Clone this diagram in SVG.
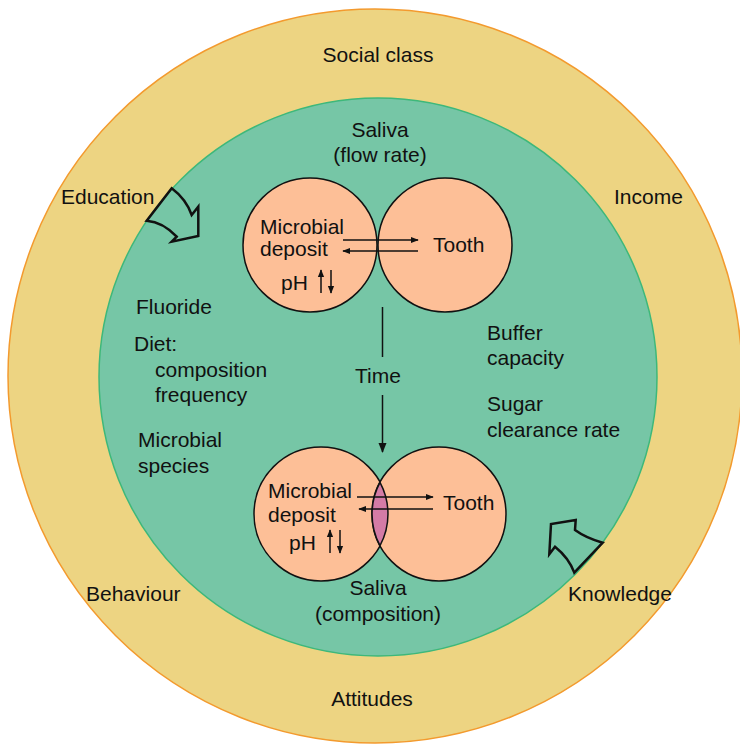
<svg xmlns="http://www.w3.org/2000/svg" width="740" height="744" viewBox="0 0 740 744">
<defs>
<style>
text{font-family:"Liberation Sans",Arial,sans-serif;font-size:21px;fill:#111}
.c{text-anchor:middle}
.circ{fill:#FDBF97;stroke:#111;stroke-width:1.5}
.ln{stroke:#111;stroke-width:1.5;fill:none}
.blk{fill:none;stroke:#111;stroke-width:2.5;stroke-linejoin:miter}
</style>
<marker id="ah" viewBox="0 0 10 10" refX="9" refY="5" markerWidth="8" markerHeight="8" orient="auto" markerUnits="userSpaceOnUse">
<path d="M0,1 L10,5 L0,9 Z" fill="#111"/>
</marker>
<marker id="ahv" viewBox="0 0 10 10" refX="9" refY="5" markerWidth="10" markerHeight="10" orient="auto" markerUnits="userSpaceOnUse">
<path d="M0,1 L10,5 L0,9 Z" fill="#111"/>
</marker>
</defs>
<g id="outer-ring">
<circle cx="375" cy="376" r="367" fill="#EDD482" stroke="#F39A2E" stroke-width="1.5"/>
<text class="c" x="378" y="62">Social class</text>
<text x="61" y="204">Education</text>
<text x="614" y="204">Income</text>
<text x="86" y="601">Behaviour</text>
<text x="568" y="601">Knowledge</text>
<text class="c" x="372" y="706">Attitudes</text>
</g>
<g id="inner-ring">
<circle cx="378" cy="377" r="279" fill="#76C6A6" stroke="#3DB87A" stroke-width="1.5"/>
<text class="c" x="380" y="137">Saliva</text>
<text class="c" x="380" y="162">(flow rate)</text>
<text x="136" y="314">Fluoride</text>
<text x="134" y="351">Diet:</text>
<text x="155" y="377">composition</text>
<text x="155" y="402">frequency</text>
<text x="138" y="447">Microbial</text>
<text x="138" y="473">species</text>
<text x="487" y="340">Buffer</text>
<text x="487" y="365">capacity</text>
<text x="487" y="411">Sugar</text>
<text x="487" y="437">clearance rate</text>
<text class="c" x="378" y="595">Saliva</text>
<text class="c" x="378" y="621">(composition)</text>
</g>
<g id="top-pair">
<circle class="circ" cx="310" cy="245" r="67"/>
<circle class="circ" cx="445" cy="245" r="67"/>
<text x="260" y="234">Microbial</text>
<text x="260" y="256">deposit</text>
<text x="433" y="252">Tooth</text>
<text x="281" y="290">pH</text>
</g>
<g id="bottom-pair">
<circle class="circ" cx="321" cy="514" r="67"/>
<circle class="circ" cx="439" cy="514" r="67"/>
<path d="M380,482.3 A67,67 0 0 1 380,545.7 A67,67 0 0 1 380,482.3 Z" fill="#D47BA6" stroke="#111" stroke-width="1.5"/>
<text x="268" y="498">Microbial</text>
<text x="268" y="522">deposit</text>
<text x="443" y="510">Tooth</text>
<text x="289" y="550">pH</text>
</g>
<g id="time">
<text class="c" x="378" y="383">Time</text>
</g>
<g id="education-arrow">
<path class="blk" d="M171.7,188.3 Q186,199 191.7,215 L198.3,206.7 L198.3,236 L171.7,241.7 L176.7,236.7 Q163,222 146.7,220.7 Z"/>
</g>
<g id="knowledge-arrow">
<path class="blk" d="M602.7,542.7 Q586,538 575,530 L575.7,520 L551,524 L549.3,554.3 L555,546.7 Q569,558 574.3,572.7 Z"/>
</g>
<g id="connectors">
<line class="ln" x1="343" y1="240" x2="418" y2="240" marker-end="url(#ah)"/>
<line class="ln" x1="418" y1="251" x2="343" y2="251" marker-end="url(#ah)"/>
<line class="ln" x1="321" y1="293" x2="321" y2="270" marker-end="url(#ah)"/>
<line class="ln" x1="331" y1="270" x2="331" y2="293" marker-end="url(#ah)"/>
<line class="ln" x1="357" y1="497" x2="433" y2="497" marker-end="url(#ah)"/>
<line class="ln" x1="433" y1="509" x2="359" y2="509" marker-end="url(#ah)"/>
<line class="ln" x1="330" y1="553" x2="330" y2="530" marker-end="url(#ah)"/>
<line class="ln" x1="340" y1="530" x2="340" y2="553" marker-end="url(#ah)"/>
<line class="ln" x1="382.5" y1="307" x2="382.5" y2="357"/>
<line class="ln" x1="382.5" y1="395" x2="382.5" y2="452" marker-end="url(#ahv)"/>
</g>
</svg>
